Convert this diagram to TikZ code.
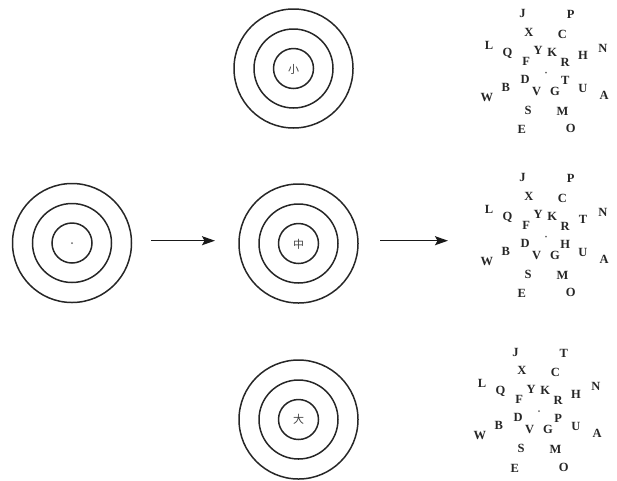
\documentclass[tikz,border=0pt]{standalone}
\usepackage{fontspec}
\setmainfont{Liberation Serif}
\newfontfamily\cjk{Noto Sans CJK SC}
\usetikzlibrary{arrows.meta}
\tikzset{
  ring/.style={draw=black!85, line width=1.5pt, circle, minimum size=#1, inner sep=0pt},
  hanzi/.style={font=\cjk\fontsize{11}{11}\selectfont, text=black!75, inner sep=0pt},
  ltr/.style={font=\bfseries\fontsize{12.5}{12.5}\selectfont, text=black!85, inner sep=0pt},
  cdot/.style={circle, fill=black!60, minimum size=2pt, inner sep=0pt},
  arr/.style={line width=1.4pt, draw=black!90, -{Stealth[length=13pt,width=9pt,inset=2.5pt]}}
}
\newcommand{\target}[4]{% name, x, y, center text
  \node[ring=119pt] (#1-outer) at (#2,#3) {};
  \node[ring=79pt] (#1-mid) at (#2,#3) {};
  \node[ring=40pt] (#1-inner) at (#2,#3) {};
  #4
}
\newcommand{\lettergrid}[6]{% name, x, y, P-spot, H-spot, T-spot
  \begin{scope}[shift={(#2,#3)}]
    \node[cdot] (#1-dot) at (0,0) {};
    \node[ltr] (#1-J) at (-23.4,-59) {J};
    \node[ltr] (#1-s1) at (24.7,-58) {#4};
    \node[ltr] (#1-X) at (-17,-40.5) {X};
    \node[ltr] (#1-C) at (16.4,-38.5) {C};
    \node[ltr] (#1-L) at (-57,-27.6) {L};
    \node[ltr] (#1-N) at (56.8,-24.2) {N};
    \node[ltr] (#1-Q) at (-38.5,-19.6) {Q};
    \node[ltr] (#1-Y) at (-7.8,-21.8) {Y};
    \node[ltr] (#1-K) at (6.3,-20.5) {K};
    \node[ltr] (#1-s2) at (37,-17) {#5};
    \node[ltr] (#1-F) at (-19.7,-11.2) {F};
    \node[ltr] (#1-R) at (19.1,-10.2) {R};
    \node[ltr] (#1-D) at (-20.8,6.8) {D};
    \node[ltr] (#1-s3) at (19.3,7.3) {#6};
    \node[ltr] (#1-B) at (-40.1,14.9) {B};
    \node[ltr] (#1-V) at (-9.4,18.4) {V};
    \node[ltr] (#1-G) at (8.9,18.8) {G};
    \node[ltr] (#1-U) at (37,15.8) {U};
    \node[ltr] (#1-A) at (58.1,22.3) {A};
    \node[ltr] (#1-W) at (-59.1,24.7) {W};
    \node[ltr] (#1-S) at (-18,37.4) {S};
    \node[ltr] (#1-M) at (16.4,38.5) {M};
    \node[ltr] (#1-E) at (-24.3,57.1) {E};
    \node[ltr] (#1-O) at (24.8,56.2) {O};
  \end{scope}
}
\begin{document}
\begin{tikzpicture}[x=1pt,y=-1pt]
  \useasboundingbox (0,0) rectangle (617,480);
  \target{left}{72}{243}{\node[cdot] (left-dot) at (72,243) {};}
  \target{top}{293.5}{68.5}{\node[hanzi] (top-char) at (293.5,69) {小};}
  \target{midc}{298.5}{243.5}{\node[hanzi] (midc-char) at (298.5,244) {中};}
  \target{bot}{298.5}{419.5}{\node[hanzi] (bot-char) at (298.5,419.5) {大};}
  \lettergrid{g1}{546}{72.7}{P}{H}{T}
  \lettergrid{g2}{546}{236.7}{P}{T}{H}
  \lettergrid{g3}{539}{411}{T}{H}{P}
  \coordinate (a1s) at (151,240.7);
  \coordinate (a1e) at (215,240.7);
  \coordinate (a2s) at (380,240.7);
  \coordinate (a2e) at (448,240.7);
  \draw[arr] (a1s) -- (a1e);
  \draw[arr] (a2s) -- (a2e);
\end{tikzpicture}
\end{document}
